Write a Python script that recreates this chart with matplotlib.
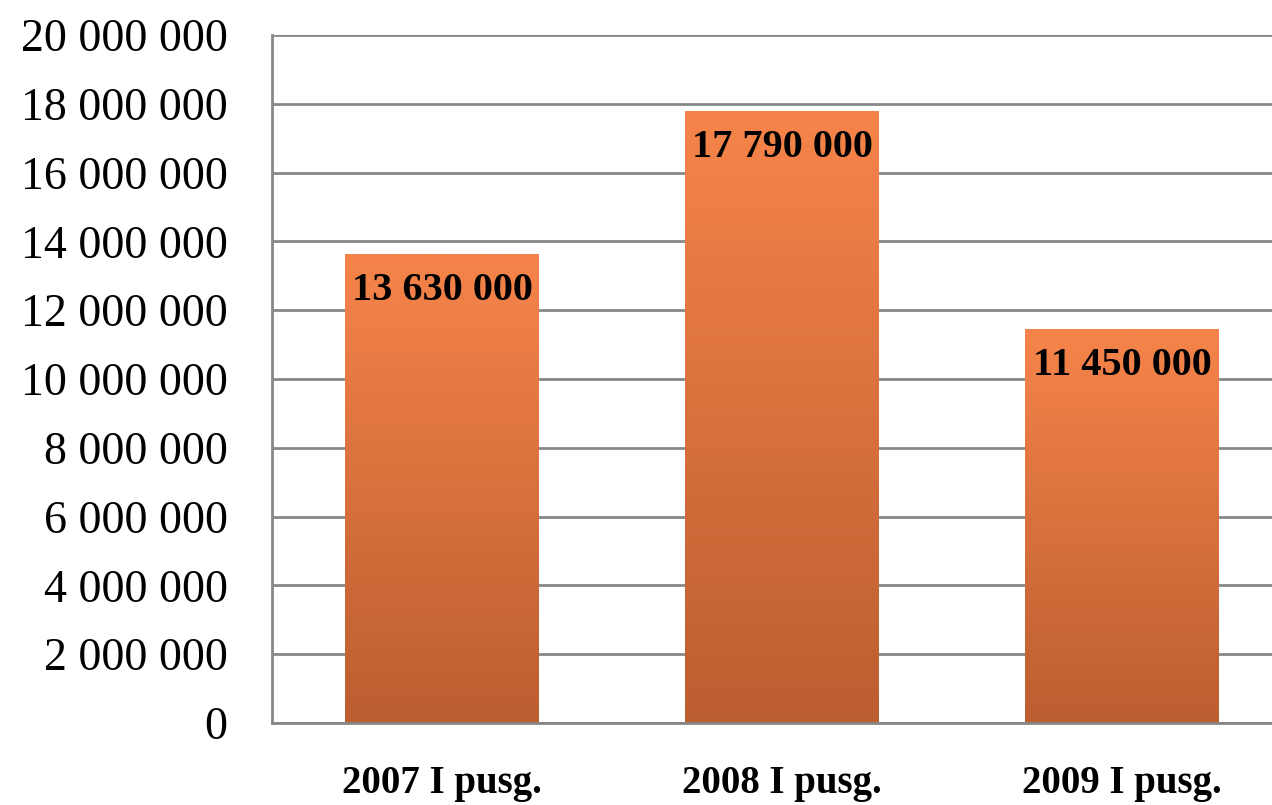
import matplotlib.pyplot as plt
import numpy as np
from matplotlib.colors import LinearSegmentedColormap

categories = ['2007 I pusg.', '2008 I pusg.', '2009 I pusg.']
values = [13630000, 17790000, 11450000]
yticks = list(range(0, 20000001, 2000000))


def fmt(v):
    return '{:,}'.format(v).replace(',', ' ')


plt.rcParams['font.family'] = ['Liberation Serif', 'DejaVu Serif']

fig = plt.figure(figsize=(12.72, 8.05), dpi=100)
ax = fig.add_axes([272 / 1272, 1 - 723 / 805, 1000 / 1272, (723 - 35) / 805])

x = np.arange(len(categories))
bars = ax.bar(x, values, width=0.57, color='none', zorder=2)

# orange gradient, lighter at top, darker at the bottom
cmap = LinearSegmentedColormap.from_list('og', ['#bb5e30', '#f6844a'])
grad = np.linspace(0, 1, 256).reshape(-1, 1)
for b in bars:
    x0, y0 = b.get_x(), b.get_y()
    w, h = b.get_width(), b.get_height()
    im = ax.imshow(grad, cmap=cmap, origin='lower', aspect='auto',
                   extent=[x0, x0 + w, y0, y0 + h], zorder=2)
    im.set_clip_path(b)

for xi, v in zip(x, values):
    ax.text(xi, v - 1070000, fmt(v), ha='center', va='center',
            fontsize=29, fontweight='bold', zorder=3)

ax.set_xlim(-0.5, 2.44)
ax.set_ylim(0, 20000000)
ax.set_yticks(yticks)
ax.set_yticklabels([fmt(t) for t in yticks], fontsize=33)
ax.set_xticks(x)
ax.set_xticklabels(categories, fontsize=28, fontweight='bold')
ax.tick_params(axis='y', length=0, pad=32)
ax.tick_params(axis='x', length=0, pad=30)

ax.grid(axis='y', color='#888888', linewidth=2, zorder=1)
ax.set_axisbelow(True)
for s in ['top', 'right']:
    ax.spines[s].set_visible(False)
for s in ['left', 'bottom']:
    ax.spines[s].set_color('#888888')
    ax.spines[s].set_linewidth(2)

fig.savefig('out.png', dpi=100)
